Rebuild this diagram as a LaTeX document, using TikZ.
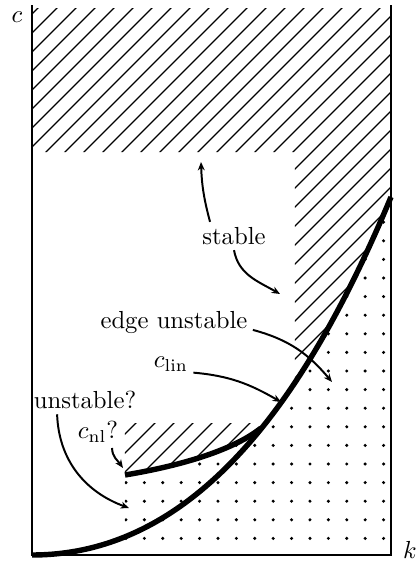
\documentclass[tikz,border=0pt]{standalone}
\usetikzlibrary{arrows.meta}

\begin{document}
\begin{tikzpicture}[
    x=0.405pt, y=0.405pt,
    every node/.style={inner sep=2pt},
    axis/.style={line width=1.2pt},
    curve/.style={line width=2.2pt},
    arr/.style={-{Stealth[length=3.4pt, width=2.8pt]}, line width=0.8pt},
    hatchline/.style={line width=0.5pt},
]
\useasboundingbox (0,0) rectangle (417,561);

% corners of the plot
\coordinate (O) at (32,6);
\coordinate (TL) at (32,556);
\coordinate (BR) at (391,6);
\coordinate (TR) at (391,556);
\coordinate (E) at (391,364);   % end of c_lin
\coordinate (N) at (125,86);    % start of c_nl
\coordinate (M) at (261,133);   % c_nl meets c_lin

% =============================================
% REGIONS
% =============================================
% dots below c_lin and below c_nl
\begin{scope}
    \clip (O) .. controls (200,6) and (310,170) .. (E) -- (BR) -- cycle
        (N) .. controls (185,96) and (235,112) .. (M) -- (261,6) -- (125,6) -- cycle;
    \foreach \x in {34,52.4,...,384}
        \foreach \y in {4,22.6,...,366}
            \fill (\x,\y) circle[radius=1.7];
\end{scope}

% hatched: stable
\begin{scope}
    \clip (O) .. controls (200,6) and (310,170) .. (E) -- (TR) -- (TL) -- cycle;
    \clip (32,553) -- (32,409) -- (295,409) -- (295,0) -- (391,0)
        -- (391,553) -- cycle;
    \foreach \c in {-397,-378,...,534}
        \draw[hatchline] (0,\c) -- ++(600,600);
\end{scope}

% hatched: above c_nl
\begin{scope}
    \clip (N) -- (125,138) -- (265,138) -- (M)
        .. controls (235,112) and (185,96) .. (N);
    \foreach \c in {-397,-378,...,534}
        \draw[hatchline] (0,\c) -- ++(600,600);
\end{scope}

% =============================================
% AXES AND CURVES
% =============================================
\draw[axis] (TL) -- (O) -- (BR) -- (TR);
\draw[curve] (O) .. controls (200,6) and (310,170) .. (E);
\draw[curve] (N) .. controls (185,96) and (235,112) .. (M);

\node (lc) at (17,544) {$c$};
\node (lk) at (410,11) {$k$};

% =============================================
% LABELS
% =============================================
\node (stable) at (234,325) {stable};
\node (edge) at (174,239) {edge unstable};
\node (clin) at (171,197) {$c_{\mathrm{lin}}$};
\node (unst) at (85,161) {unstable?};
\node (cnl) at (98,129) {$c_{\mathrm{nl}}$?};

\coordinate (t1) at (201,399);
\coordinate (t2) at (280,267);
\coordinate (t3) at (332,179);
\coordinate (t4) at (281,159);
\coordinate (t5) at (129,53);
\coordinate (t6) at (123,93);

\draw[arr] ([xshift=-9.7pt]stable.north) to[out=105, in=-88] (t1);
\draw[arr] (stable.south) to[out=-80, in=150] (t2);
\draw[arr] ([yshift=-3.2pt]edge.east) to[out=-15, in=130] (t3);
\draw[arr] ([yshift=-3.5pt]clin.east) to[out=-5, in=150] (t4);
\draw[arr] ([xshift=-11.3pt]unst.south) to[out=-88, in=160] (t5);
\draw[arr] ([xshift=5.7pt]cnl.south) to[out=-90, in=125] (t6);

\end{tikzpicture}
\end{document}
